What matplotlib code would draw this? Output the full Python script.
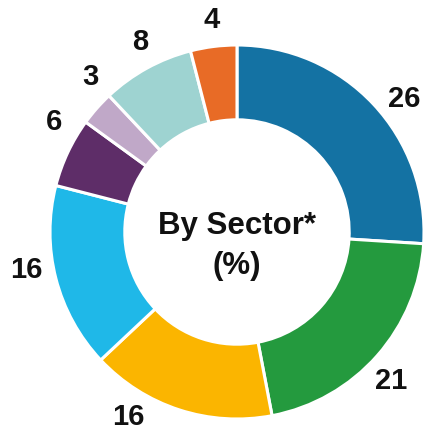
import numpy as np
import matplotlib.pyplot as plt

plt.rcParams['font.family'] = ['Liberation Sans', 'DejaVu Sans']

values = [26, 21, 16, 16, 6, 3, 8, 4]
labels = ['26', '21', '16', '16', '6', '3', '8', '4']
colors = ['#1472a3', '#249a3e', '#fbb500', '#1fb8e8',
          '#5e2d68', '#c0a8c8', '#9ed3d1', '#e86b26']

fig = plt.figure(figsize=(4.26, 4.27), dpi=100)
ax = fig.add_axes([0, 0, 1, 1])

wedges, _ = ax.pie(values, colors=colors, startangle=90, counterclock=False,
                   radius=1, wedgeprops=dict(width=0.4, edgecolor='white', linewidth=2.2))

# labels sit a little clockwise of each wedge's middle, as in the original
nudge = [-4.5, -2.5, -12.5, -4.5, -6, -5.5, -2, -0.5]
for w, lab, d in zip(wedges, labels, nudge):
    ang = np.deg2rad((w.theta1 + w.theta2) / 2 + d)
    ax.text(1.145 * np.cos(ang), 1.145 * np.sin(ang), lab, ha='center', va='center',
            fontsize=21, fontweight='bold', color='#111111')

ax.text(0, -0.07, 'By Sector*\n(%)', ha='center', va='center', fontsize=22.5,
        fontweight='bold', color='#111111', linespacing=1.4)

# center of ring sits at pixel (237, 233), radius ~187 px
ax.set_xlim(-237 / 187, 189 / 187)
ax.set_ylim(-194 / 187, 233 / 187)
ax.set_aspect('auto')
ax.axis('off')

fig.savefig('out.png', dpi=100)
